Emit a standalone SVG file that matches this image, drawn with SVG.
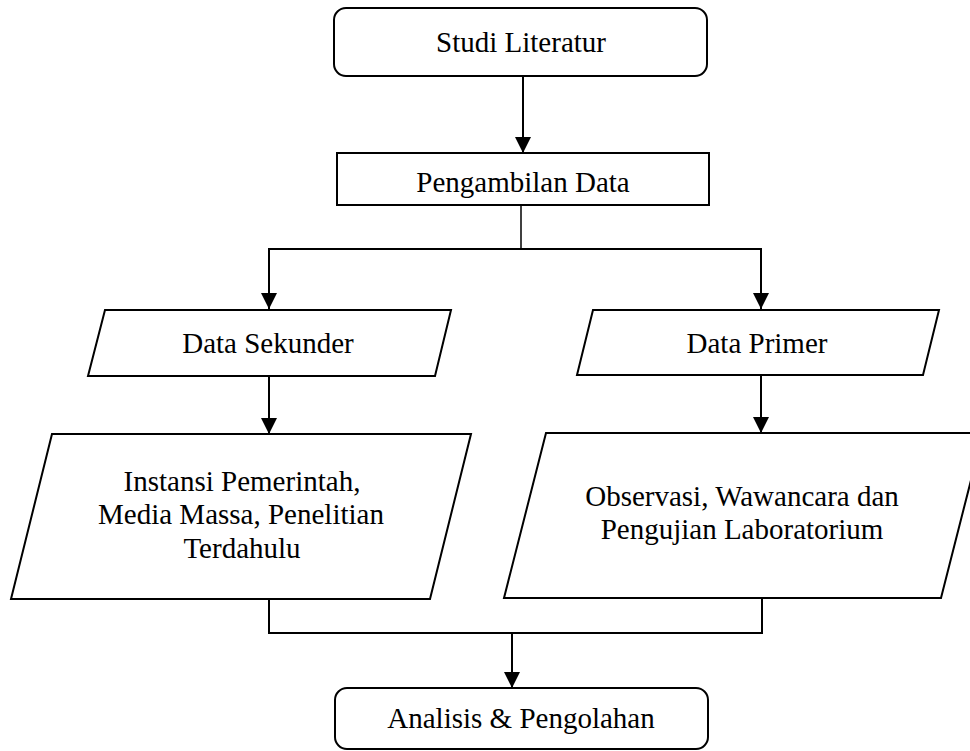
<svg xmlns="http://www.w3.org/2000/svg" width="970" height="751" viewBox="0 0 970 751">
<defs>
<style>
.shape{fill:#fff;stroke:#000;stroke-width:2}
.lbl{font-family:"Liberation Serif","Times New Roman",serif;font-size:29px;fill:#000;text-anchor:middle}
.con{fill:none;stroke:#000;stroke-width:2}
.thin{fill:none;stroke:#000;stroke-width:1.5}
</style>
<marker id="arr" markerUnits="userSpaceOnUse" markerWidth="16" markerHeight="16" refX="15" refY="7.5" orient="auto" viewBox="0 0 15 15">
<path d="M0,0 L15,7.5 L0,15 Z" fill="#000"/>
</marker>
</defs>
<rect width="970" height="751" fill="#fff"/>
<g id="connectors">
<line class="con" x1="523" y1="76" x2="523" y2="153" marker-end="url(#arr)"/>
<polyline class="thin" points="521,205 521,249"/>
<polyline class="con" points="269,308 269,249 761,249 761,308"/>
<line class="con" x1="269" y1="249" x2="269" y2="309" marker-end="url(#arr)"/>
<line class="con" x1="761" y1="249" x2="761" y2="309" marker-end="url(#arr)"/>
<line class="con" x1="269" y1="376" x2="269" y2="434" marker-end="url(#arr)"/>
<line class="con" x1="761" y1="375" x2="761" y2="433" marker-end="url(#arr)"/>
<polyline class="con" points="269,599 269,633 762,633 762,598"/>
<line class="con" x1="512" y1="633" x2="512" y2="688" marker-end="url(#arr)"/>
</g>
<g id="studi-literatur">
<rect class="shape" x="334" y="8" width="373" height="68" rx="12"/>
<text class="lbl" x="521" y="52">Studi Literatur</text>
</g>
<g id="pengambilan-data">
<rect class="shape" x="337" y="153" width="372" height="52"/>
<text class="lbl" x="523" y="192">Pengambilan Data</text>
</g>
<g id="data-sekunder">
<polygon class="shape" points="105,310 451,310 435,376 88,376"/>
<text class="lbl" x="268" y="353">Data Sekunder</text>
</g>
<g id="data-primer">
<polygon class="shape" points="593,310 939,310 923,375 577,375"/>
<text class="lbl" x="757" y="353">Data Primer</text>
</g>
<g id="instansi">
<polygon class="shape" points="52,434 471,434 430,599 11,599"/>
<text class="lbl" x="242" y="491">Instansi Pemerintah,</text>
<text class="lbl" x="241" y="524">Media Massa, Penelitian</text>
<text class="lbl" x="242" y="558">Terdahulu</text>
</g>
<g id="observasi">
<polygon class="shape" points="546,433 983,433 941,598 504,598"/>
<text class="lbl" x="742" y="506">Observasi, Wawancara dan</text>
<text class="lbl" x="742" y="539">Pengujian Laboratorium</text>
</g>
<g id="analisis">
<rect class="shape" x="335" y="688" width="373" height="61" rx="12"/>
<text class="lbl" x="521" y="728">Analisis &amp; Pengolahan</text>
</g>
</svg>
